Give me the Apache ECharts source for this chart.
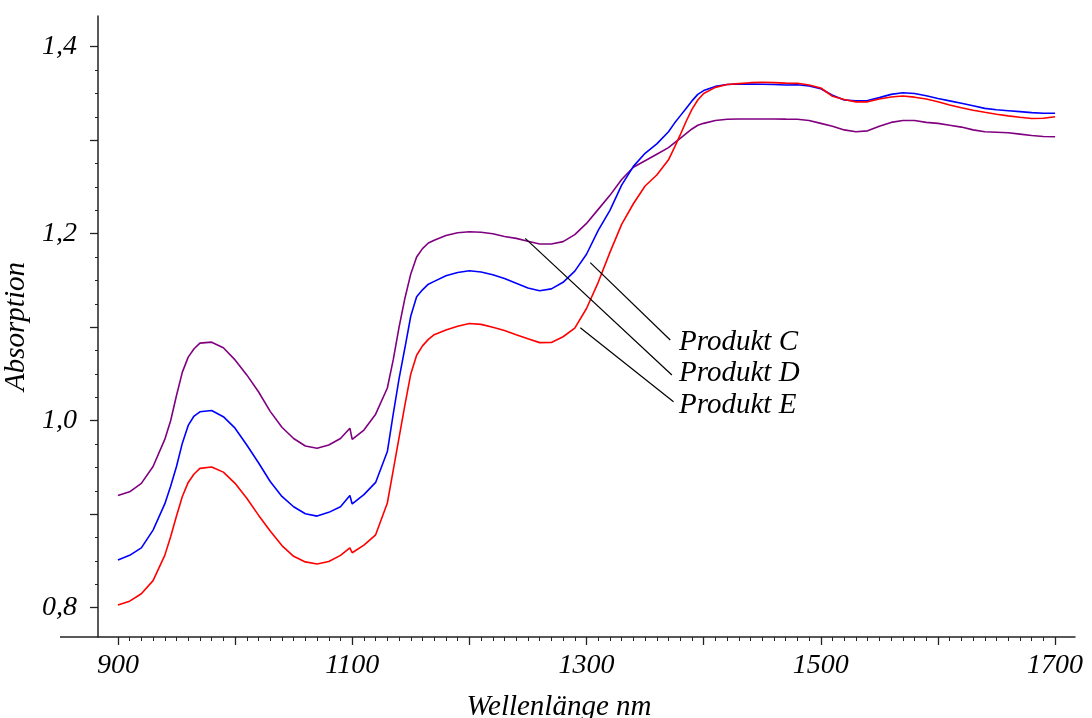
<!DOCTYPE html>
<html>
<head>
<meta charset="utf-8">
<script src="https://cdn.jsdelivr.net/npm/echarts@6/dist/echarts.min.js"></script>
<style>
html,body{margin:0;padding:0;background:#fff;}
#chart{width:1092px;height:718px;}
</style>
</head>
<body>
<div id="chart"></div>
<script>
// Wavelengths (nm)
var wavelengths = [
  900,910,920,930,940,945,950,955,960,965,970,980,990,
  1000,1010,1020,1030,1040,1050,1060,1070,1080,1090,1098,
  1100,1110,1120,1130,1135,1140,1145,1150,1155,1160,1165,1170,1180,1190,
  1200,1210,1220,1230,1240,1250,1260,1270,1280,1290,
  1300,1310,1320,1330,1340,1350,1360,1370,1375,1380,1385,1390,1395,
  1400,1410,1420,1430,1440,1450,1460,1470,1480,1490,
  1500,1510,1520,1530,1540,1550,1560,1570,1580,1590,
  1600,1610,1620,1630,1640,1650,1660,1670,1680,1690,1700];

// Produkt D (purple)
var absD = [
  0.920,0.924,0.933,0.951,0.980,1.000,1.027,1.052,1.068,1.077,1.083,1.084,1.078,
  1.065,1.049,1.031,1.010,0.993,0.981,0.973,0.9705,0.974,0.981,0.992,
  0.980,0.990,1.007,1.035,1.065,1.100,1.131,1.157,1.175,1.184,1.190,1.193,1.198,1.201,
  1.202,1.2015,1.200,1.197,1.195,1.192,1.189,1.189,1.1915,1.199,
  1.211,1.226,1.241,1.258,1.271,1.278,1.285,1.292,1.297,1.302,1.307,1.312,1.316,
  1.318,1.321,1.3224,1.3227,1.3227,1.3227,1.3227,1.3225,1.3224,1.321,
  1.318,1.315,1.311,1.309,1.310,1.315,1.319,1.321,1.321,1.319,
  1.318,1.316,1.314,1.311,1.309,1.3085,1.308,1.3065,1.305,1.304,1.3037];

// Produkt C (blue)
var absC = [
  0.851,0.856,0.864,0.883,0.911,0.930,0.951,0.976,0.995,1.005,1.0095,1.011,1.0043,
  0.992,0.974,0.955,0.935,0.919,0.908,0.9005,0.898,0.902,0.908,0.920,
  0.911,0.921,0.934,0.967,1.007,1.045,1.078,1.112,1.1326,1.140,1.146,1.149,1.155,1.1585,
  1.1604,1.159,1.156,1.152,1.147,1.142,1.139,1.141,1.148,1.160,
  1.178,1.2035,1.225,1.252,1.272,1.286,1.296,1.309,1.318,1.326,1.334,1.342,1.349,
  1.353,1.3575,1.3595,1.360,1.360,1.3598,1.3595,1.359,1.3592,1.358,
  1.355,1.348,1.343,1.342,1.3425,1.3455,1.349,1.3508,1.350,1.3475,
  1.3445,1.342,1.3395,1.3368,1.334,1.3325,1.3315,1.3305,1.3295,1.3288,1.3288];

// Produkt E (red)
var absE = [
  0.803,0.807,0.815,0.829,0.856,0.876,0.898,0.919,0.934,0.943,0.949,0.9505,0.945,
  0.933,0.917,0.899,0.882,0.8665,0.855,0.849,0.8467,0.8495,0.856,0.864,
  0.8588,0.867,0.878,0.912,0.947,0.982,1.017,1.050,1.070,1.080,1.087,1.092,1.097,1.101,
  1.104,1.103,1.100,1.0965,1.092,1.0877,1.0835,1.0837,1.0898,1.099,
  1.120,1.148,1.180,1.210,1.232,1.251,1.2628,1.279,1.292,1.3056,1.320,1.333,1.343,
  1.350,1.3565,1.3595,1.3605,1.3615,1.3619,1.3615,1.361,1.3608,1.359,
  1.3558,1.347,1.3435,1.341,1.341,1.344,1.3462,1.3473,1.346,1.344,
  1.341,1.3376,1.3346,1.332,1.3298,1.3278,1.326,1.3245,1.3232,1.3235,1.3251];

// Axis ticks / labels
var xMajorTicks = [900,1000,1100,1200,1300,1400,1500,1600,1700];
var xLabels = [900,1100,1300,1500,1700];
var xMinorTicks = [];
for (var t = 900; t <= 1700; t += 10) { if (t % 100 !== 0) xMinorTicks.push(t); }
var yMajorTicks = [0.8,0.9,1.0,1.1,1.2,1.3,1.4];
var yLabels = [0.8,1.0,1.2,1.4];
var yMinorTicks = [];
for (var k = 0; k < 24; k++) { if (k % 4 !== 0) yMinorTicks.push(+(0.8 + k * 0.025).toFixed(3)); }

// Annotations
var annoNames = ['Produkt C','Produkt D','Produkt E'];
var annoPos = [[1379,1.084],[1379,1.0505],[1379,1.0165]];
var leaderLines = [
  [[1303.2,1.169],[1371.5,1.0863]],
  [[1247.7,1.195],[1372.9,1.0489]],
  [[1294.7,1.0995],[1374.3,1.0203]]
];

var FONT = 'Liberation Serif';
function pairs(ys){ return wavelengths.map(function(w,i){ return [w, ys[i]]; }); }
function fmtY(v){ return v.toFixed(1).replace('.', ','); }
function fmtX(v){ return String(Math.round(v)); }

var gridLeft = 98, gridRight = 17, gridTop = 16, gridBottom = 81;
var axisColor = '#222';

var chart = echarts.init(document.getElementById('chart'), null, {renderer:'canvas'});
var option = {
  animation: false,
  backgroundColor: '#fff',
  grid: {left: gridLeft, right: gridRight, top: gridTop, bottom: gridBottom, containLabel: false, outerBoundsMode: 'none'},
  xAxis: [{
    type: 'value', min: 883, max: 1717, position: 'bottom',
    name: 'Wellenlänge nm', nameLocation: 'middle', nameGap: 56,
    nameTextStyle: {fontFamily: FONT, fontStyle: 'italic', fontSize: 29, color: '#000', padding: [0, 55, 0, 0]},
    axisLine: {show: true, lineStyle: {color: axisColor, width: 1.5}},
    axisTick: {show: true, length: 8, customValues: xMajorTicks, lineStyle: {color: axisColor, width: 1.3}},
    axisLabel: {show: true, customValues: xLabels, formatter: fmtX, margin: 15, fontFamily: FONT, fontStyle: 'italic', fontSize: 28, color: '#000'},
    splitLine: {show: false}
  }, {
    type: 'value', min: 883, max: 1717, position: 'bottom', offset: 0,
    axisLine: {show: false},
    axisTick: {show: true, length: 4, customValues: xMinorTicks, lineStyle: {color: axisColor, width: 1}},
    axisLabel: {show: false},
    splitLine: {show: false}
  }],
  yAxis: [{
    type: 'value', min: 0.7687, max: 1.4328, position: 'left',
    name: 'Absorption', nameLocation: 'middle', nameGap: 52,
    nameTextStyle: {fontFamily: FONT, fontStyle: 'italic', fontSize: 29, color: '#000'},
    axisLine: {show: true, lineStyle: {color: axisColor, width: 1.5}},
    axisTick: {show: true, length: 8, customValues: yMajorTicks, lineStyle: {color: axisColor, width: 1.3}},
    axisLabel: {show: true, customValues: yLabels, margin: 21, formatter: fmtY, fontFamily: FONT, fontStyle: 'italic', fontSize: 28, color: '#000'},
    splitLine: {show: false}
  }, {
    type: 'value', min: 0.7687, max: 1.4328, position: 'left', offset: 0,
    axisLine: {show: false},
    axisTick: {show: true, length: 3, customValues: yMinorTicks, lineStyle: {color: axisColor, width: 1}},
    axisLabel: {show: false},
    splitLine: {show: false}
  }],
  series: [
    {name: 'Produkt D', type: 'line', data: pairs(absD), showSymbol: false, symbol: 'none', lineStyle: {color: '#800080', width: 1.6}, z: 3},
    {name: 'Produkt C', type: 'line', data: pairs(absC), showSymbol: false, symbol: 'none', lineStyle: {color: '#0000ff', width: 1.6}, z: 4},
    {name: 'Produkt E', type: 'line', data: pairs(absE), showSymbol: false, symbol: 'none', lineStyle: {color: '#ff0000', width: 1.6}, z: 5},
    {type: 'lines', coordinateSystem: 'cartesian2d', polyline: false, z: 6,
      lineStyle: {color: '#000', width: 1.2, opacity: 1},
      data: leaderLines.map(function(c){ return {coords: c}; })},
    {type: 'scatter', symbolSize: 0, z: 7, itemStyle: {opacity: 1},
      data: annoPos.map(function(p, i){ return {name: annoNames[i], value: p}; }),
      label: {show: true, position: 'right', distance: 0, formatter: function(p){ return p.name; },
        fontFamily: FONT, fontStyle: 'italic', fontSize: 29, color: '#000', opacity: 1}}
  ],
  graphic: [{
    type: 'line', z: 10,
    shape: {x1: 60, y1: 718 - gridBottom, x2: gridLeft, y2: 718 - gridBottom},
    style: {stroke: axisColor, lineWidth: 1.5}
  }]
};
chart.setOption(option);
</script>
</body>
</html>
